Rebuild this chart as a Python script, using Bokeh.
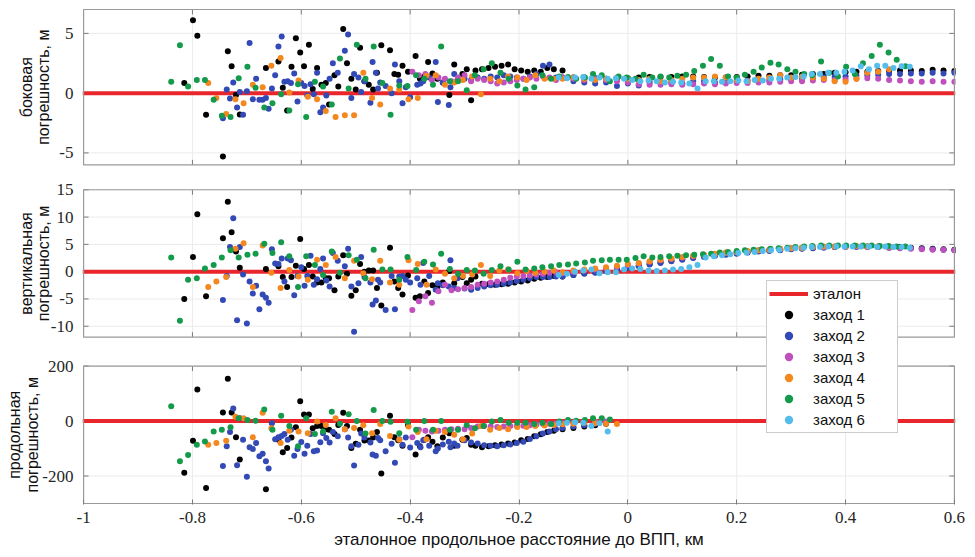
import math
from bokeh.plotting import figure
from bokeh.layouts import row
from bokeh.models import Range1d, FixedTicker, Legend, LegendItem
from bokeh.core.properties import value
from bokeh.embed import file_html
from bokeh.resources import INLINE

# ---------------- axis / text definitions ----------------
X_LIMITS = (-1.0, 0.6)
X_TICKS = [-1.0, -0.8, -0.6, -0.4, -0.2, 0.0, 0.2, 0.4, 0.6]
X_TICK_LABELS = ["-1", "-0.8", "-0.6", "-0.4", "-0.2", "0", "0.2", "0.4", "0.6"]
X_LABEL = "эталонное продольное расстояние до ВПП, км"

LAT_LIMITS = (-6, 7)
LAT_TICKS = [-5, 0, 5]
VERT_LIMITS = (-12, 15)
VERT_TICKS = [-10, -5, 0, 5, 10, 15]
LON_LIMITS = (-300, 200)
LON_TICKS = [-200, 0, 200]

PANEL_LABELS = [("боковая", "погрешность, м"),
                ("вертикальная", "погрешность, м"),
                ("продольная", "погрешность, м")]
REF_NAME = "эталон"
REF_LEVEL = 0
SERIES_NAMES = ["заход 1", "заход 2", "заход 3", "заход 4", "заход 5", "заход 6"]

# ---------------- data ----------------
RIGHT_X = [-0.12, -0.10, -0.08, -0.06, -0.04, -0.02, 0.00, 0.02, 0.04, 0.06,
           0.08, 0.10, 0.12, 0.14, 0.16, 0.18, 0.20, 0.22, 0.24, 0.26,
           0.28, 0.30, 0.32, 0.34, 0.36, 0.38, 0.40, 0.42, 0.44, 0.46,
           0.48, 0.50, 0.52, 0.54, 0.56, 0.58, 0.60]

# заход 1
X1 = [-0.815, -0.799, -0.791, -0.775, -0.744, -0.735, -0.728, -0.720, -0.713, -0.665,
      -0.642, -0.634, -0.626, -0.618, -0.610, -0.602, -0.595, -0.586, -0.579, -0.571,
      -0.563, -0.555, -0.549, -0.539, -0.532, -0.523, -0.516, -0.508, -0.500, -0.492,
      -0.484, -0.476, -0.468, -0.461, -0.453, -0.437, -0.429, -0.422, -0.414, -0.404,
      -0.390, -0.382, -0.374, -0.367, -0.359, -0.350, -0.340, -0.328, -0.319, -0.304,
      -0.296, -0.288, -0.280, -0.268, -0.256, -0.244, -0.232, -0.220, -0.208, -0.196,
      -0.184, -0.172, -0.160, -0.148, -0.136] + RIGHT_X
LAT1 = [0.86, 6.1, 4.8, -1.8, -5.3, 3.5, 2.25, -0.15, -1.78, 2.1,
        2.65, 0.45, -1.45, 2.2, 4.6, 3.4, 2.25, 4.05, 0.35, 2.1,
        0.7, 0.85, -0.95, 1.5, 0.55, 5.36, 2.5, 1.2, 0.3, 3.8,
        1.0, 0.7, 0.3, 1.7, 4.0, 3.6, 1.6, 1.55, 2.3, 1.8,
        3.1, 1.2, 1.4, 2.6, 1.65, 1.2, 0.9, -0.15, 2.4, 1.6,
        2.0, -0.6, 1.9, 2.0, 2.1, 2.2, 2.3, 2.4, 2.0, 1.9,
        1.8, 1.9, 1.8, 2.1, 2.0,
        1.9, 1.3, 1.3, 1.25, 1.2, 1.2, 1.25, 1.3, 1.35, 1.35,
        1.35, 1.4, 1.4, 1.35, 1.3, 1.3, 1.35, 1.4, 1.45, 1.45,
        1.5, 1.5, 1.55, 1.6, 1.6, 1.7, 1.75, 1.8, 1.8, 1.85,
        1.85, 1.9, 1.9, 1.85, 1.95, 1.9, 1.85]
VERT1 = [-5.0, 2.7, 10.5, -4.5, 6.1, 12.8, 7.2, 3.7, 0.7, 0.5,
         1.0, -1.0, -2.8, -1.0, 1.1, 6.0, 0.5, 1.2, -0.9, -2.0,
         -2.0, -1.2, -1.2, -3.4, -0.9, 3.0, -0.4, -4.4, -3.4, 1.4,
         0.0, 0.2, 0.2, -3.0, -6.2, 4.4, -1.8, -3.0, -4.2, -0.7,
         -4.8, -4.5, -1.8, -3.9, -2.5, -2.8, -2.0, 0.1, -2.1, -1.0,
         -2.1, -1.5, -0.9, -2.2, -2.3, -2.4, -2.3, -2.2, -2.0, -1.8,
         -1.6, -1.3, -1.1, -1.0, -0.8,
         -0.9, -0.6, -0.3, -0.1, 0.2, 0.5, 0.8, 1.1, 1.4, 1.7,
         2.0, 2.3, 2.6, 2.8, 3.0, 3.2, 3.4, 3.6, 3.8, 3.9,
         4.0, 4.2, 4.3, 4.4, 4.5, 4.5, 4.6, 4.6, 4.6, 4.6,
         4.5, 4.5, 4.4, 4.3, 4.2, 4.1, 4.0]
LON1 = [-188, -72, 115, -244, 31, 154, 31, -59, -140, -248,
        -68, -114, -98, -60, -23, 72, 24, 24, -26, -18,
        -18, -30, -32, -47, -14, 30, -18, -98, -83, -32,
        -71, -71, -60, -40, -191, 19, -59, -70, -90, -14,
        -122, -92, -68, -59, -75, -92, -60, -44, -90, -68,
        -62, -86, -90, -95, -92, -88, -85, -82, -78, -70,
        -65, -55, -48, -40, -35,
        -30, -25, -20, -15, -10]

# заход 2
X2 = [-0.744, -0.737, -0.731, -0.725, -0.718, -0.713, -0.707, -0.700, -0.695, -0.689,
      -0.683, -0.677, -0.671, -0.665, -0.660, -0.654, -0.648, -0.642, -0.636, -0.631,
      -0.625, -0.619, -0.613, -0.607, -0.600, -0.594, -0.589, -0.583, -0.577, -0.571,
      -0.565, -0.560, -0.554, -0.548,
      -0.542, -0.533, -0.520, -0.514, -0.508, -0.503, -0.495, -0.490, -0.484, -0.473,
      -0.469, -0.463, -0.459, -0.455, -0.445, -0.434, -0.428, -0.420, -0.414, -0.408,
      -0.400, -0.387, -0.381, -0.376, -0.365, -0.353, -0.349, -0.340, -0.329, -0.326,
      -0.319, -0.313,
      -0.300, -0.288, -0.276, -0.264, -0.252, -0.240, -0.228, -0.216, -0.204, -0.192,
      -0.180, -0.168, -0.156, -0.144, -0.132] + RIGHT_X
LAT2 = [-2.1, 0.3, -0.45, 0.9, -1.2, 0.1, -1.8, 0.15, 4.2, -0.5,
        1.2, -0.55, -0.55, -0.4, -1.3, 0.4, 1.5, 3.9, 4.75, 0.95,
        1.0, 0.85, 1.65, -0.7, 0.85, 0.6, -0.2, 0.75, -0.1, 1.7,
        -1.6, -1.2, -0.2, 1.2,
        2.5, 1.7, 3.55, 4.9, -0.4, 1.6, 1.3, 0.1, 1.0, -0.8,
        2.6, 1.7, 0.4, 0.9, 0.6, 0.0, 2.4, 1.0, -0.85, 0.5,
        -0.35, 0.7, 0.8, 1.0, 1.3, 2.6, -0.75, 0.9, -1.0, 0.5,
        1.6, 1.1,
        1.2, 1.1, 1.3, 1.2, 1.4, 1.3, 1.5, 1.4, 1.3, 1.2,
        1.4, 1.6, 2.3, 2.4, 1.3,
        1.3, 1.0, 0.9, 0.8, 0.9, 0.6, 0.8, 0.65, 0.9, 1.0,
        0.9, 0.8, 1.0, 1.0, 0.9, 1.0, 1.0, 1.05, 1.1, 1.1,
        1.15, 1.2, 1.2, 1.25, 1.3, 1.35, 1.4, 1.45, 1.5, 1.55,
        1.6, 1.6, 1.65, 1.65, 1.7, 1.65, 1.7]
VERT2 = [-5.2, -0.8, 4.5, 9.8, -8.9, 4.5, -0.5, -9.5, -1.8, -4.0,
         -2.6, -6.9, -4.2, -4.8, -5.7, 4.1, 1.5, 1.4, 2.4, -1.8,
         2.4, 2.1, -4.3, -0.8, 0.8, -2.6, -0.8, 2.9, -2.4, -1.4,
         0.5, 2.4, -1.6, -2.7,
         3.4, 2.0, 1.0, 4.2, -2.7, -11.0, -2.1, 2.7, -1.0, -2.0,
         -6.0, -5.3, -1.5, -2.0, -7.0, -0.8, -6.9, -0.9, -0.8, -1.5,
         -2.0, -1.2, -2.4, 1.6, -0.8, -3.3, -2.1, -2.5, -2.7, 2.1,
         -3.0, -1.2,
         -3.1, -3.3, -3.0, -2.7, -2.5, -2.4, -2.2, -2.0, -1.7, -1.5,
         -1.2, -1.0, -1.0, -1.0, -0.9,
         -0.9, -0.6, -0.4, -0.2, 0.1, 0.4, 0.7, 1.0, 1.3, 1.6,
         1.9, 2.2, 2.5, 2.7, 2.9, 3.1, 3.3, 3.5, 3.7, 3.8,
         3.9, 4.1, 4.2, 4.3, 4.4, 4.5, 4.5, 4.5, 4.5, 4.5,
         4.4, 4.4, 4.3, 4.2, 4.1, 4.0, 3.9]
LON2 = [-164, -92, -40, 46, -161, 10, -68, -203, -95, -102,
        -80, -128, -119, -146, -173, -8, -66, -59, -54, -47,
        -68, -32, -126, -102, -76, -119, -90, -47, -110, -107,
        -77, -44, -62, -78,
        -40, -55, -30, -60, -92, -162, -86, -45, -60, -78,
        -122, -126, -62, -70, -110, -83, -152, -66, -86, -60,
        -96, -80, -95, -70, -90, -110, -100, -85, -75, -95,
        -82, -90,
        -70, -78, -82, -88, -90, -92, -88, -85, -80, -75,
        -65, -55, -45, -38, -30,
        -25, -20, -15, -10, -6]

# заход 3
X3 = [-0.396, -0.384, -0.372, -0.360, -0.348, -0.336, -0.324, -0.312, -0.300, -0.288,
      -0.276, -0.264, -0.252, -0.240, -0.228, -0.216, -0.204, -0.192, -0.180, -0.168,
      -0.156, -0.144, -0.132] + RIGHT_X
LAT3 = [1.8, 1.5, 1.6, 1.1, 1.3, 1.2, 1.0, 1.3, 1.5, 1.0,
        1.2, 1.1, 1.0, 0.8, 0.9, 1.0, 1.1, 1.2, 1.3, 1.2,
        1.4, 1.3, 1.1,
        1.3, 1.2, 1.1, 1.2, 1.1, 1.0, 0.9, 0.75, 0.7, 0.7,
        0.75, 0.7, 0.75, 0.8, 0.75, 0.8, 0.85, 0.85, 0.9, 0.9,
        0.95, 1.0, 1.0, 1.05, 1.1, 1.1, 1.15, 1.2, 1.25, 1.2,
        1.1, 1.05, 1.0, 0.95, 1.0, 0.95, 0.95]
VERT3 = [-7.0, -5.4, -4.5, -5.7, -3.6, -2.4, -3.4, -3.2, -3.0, -2.8,
         -2.4, -2.2, -2.0, -1.8, -1.5, -1.1, -0.9, -0.8, -0.7, -0.5,
         -0.4, -0.2, -0.1,
         -0.3, 0.0, 0.2, 0.4, 0.6, 0.9, 1.2, 1.5, 1.8, 2.1,
         2.3, 2.6, 2.8, 3.0, 3.2, 3.4, 3.6, 3.7, 3.9, 4.0,
         4.1, 4.3, 4.4, 4.5, 4.5, 4.6, 4.6, 4.6, 4.5, 4.5,
         4.4, 4.3, 4.2, 4.1, 4.0, 4.0, 3.9]
LON3 = [-59, -32, -35, -38, -35, -32, -30, -28, -30, -25,
        -20, -18, -20, -22, -20, -18, -18, -17, -15, -13,
        -11, -10, -9,
        -8, -6, -4, -3, -2]

# заход 4
X4 = [-0.771, -0.756, -0.738, -0.721, -0.706, -0.689, -0.671, -0.655, -0.638, -0.622,
      -0.605, -0.588, -0.571, -0.555, -0.537, -0.520, -0.503, -0.486, -0.470, -0.455,
      -0.437, -0.420, -0.403, -0.386, -0.370, -0.353, -0.336, -0.319, -0.303, -0.286,
      -0.270, -0.253, -0.236, -0.220, -0.203, -0.186, -0.170, -0.153, -0.136] + RIGHT_X[:31]
LAT4 = [0.85, -0.4, -1.75, -0.5, -0.85, 0.7, 0.5, 2.3, 2.95, 0.05,
        1.05, -0.3, -0.5, -1.5, -2.0, -1.85, -1.85, 1.7, -0.4, -0.95,
        0.4, 0.3, -0.5, -0.4, 1.45, 1.5, 0.7, 0.9, 1.1, 1.4,
        -0.1, 1.2, 1.0, 1.4, 1.3, 1.1, 1.5, 1.2, 1.2,
        1.2, 1.3, 1.2, 1.1, 1.2, 1.3, 1.2, 1.1, 1.2, 1.0,
        1.1, 1.2, 1.3, 1.3, 1.4, 1.3, 1.1, 1.0, 1.2, 1.3,
        1.5, 1.3, 1.4, 1.3, 1.2, 1.0, 0.95, 1.2, 1.7, 1.8,
        2.0]
VERT4 = [-2.8, -1.8, -1.0, 4.2, 5.2, -2.8, 4.8, -0.2, -3.0, 0.3,
         -0.9, -1.5, 2.2, 1.2, 2.7, -1.2, 2.0, -0.3, -1.4, 2.0,
         -2.0, -2.4, 2.1, 1.4, -2.4, 0.4, -0.4, -1.2, -0.8, -0.5,
         1.2, -0.8, 0.2, 0.4, -0.3, 0.1, -0.2, 0.0, 0.2,
         -0.1, 0.2, 0.4, 0.6, 0.8, 1.1, 1.4, 1.6, 1.9, 2.2,
         2.4, 2.7, 2.9, 3.1, 3.3, 3.5, 3.6, 3.8, 3.9, 4.0,
         4.2, 4.3, 4.4, 4.5, 4.6, 4.6, 4.6, 4.7, 4.6, 4.6,
         4.6]
LON4 = [-86, -80, -72, 16, 10, -59, 30, -26, -80, -35,
        -38, -44, -2, -14, 10, -30, -25, -15, -44, -11,
        -54, -68, -20, -40, -66, -35, -40, -50, -66, -45,
        -18, -32, -25, -30, -22, -22, -18, -16, -14,
        -12, -10, -6, -8, -10, -11]

# заход 5
X5 = [-0.839, -0.823, -0.808, -0.792, -0.777, -0.761, -0.746, -0.730, -0.715, -0.699,
      -0.684, -0.668, -0.653, -0.637, -0.622, -0.606, -0.591, -0.575, -0.560, -0.544,
      -0.529, -0.513, -0.498, -0.482, -0.467, -0.451, -0.436, -0.420, -0.405, -0.389,
      -0.374, -0.358, -0.343, -0.327, -0.312, -0.296, -0.281, -0.265, -0.250, -0.234,
      -0.219, -0.203, -0.188, -0.172, -0.157, -0.141, -0.126, -0.110, -0.095, -0.079,
      -0.064, -0.048, -0.033, -0.017, -0.002, 0.014, 0.029, 0.045, 0.060, 0.076,
      0.091, 0.107, 0.122, 0.138, 0.153, 0.169, 0.184, 0.200, 0.215, 0.231,
      0.246, 0.262, 0.277, 0.293, 0.308, 0.324, 0.339, 0.355, 0.370, 0.386,
      0.401, 0.417, 0.432, 0.448, 0.463, 0.479, 0.494, 0.510]
LAT5 = [0.95, 4.0, 0.55, 1.1, 1.1, -0.55, -1.9, -2.0, 1.25, 2.2,
        0.45, -1.2, -0.85, -0.1, -1.45, 0.75, -2.0, 0.95, 0.55, -0.95,
        2.9, 0.4, 4.05, 1.2, 3.9, 0.85, -1.8, 0.65, 0.6, 1.5,
        1.2, 0.7, 3.9, 1.0, 1.0, 0.25, 1.5, 2.0, 2.5, 1.7,
        1.2, 0.65, 0.3, 0.5, 1.5, 1.2, 1.4, 1.35, 1.2, 1.3,
        1.6, 1.5, 1.0, 1.4, 1.3, 1.2, 1.55, 1.3, 1.4, 1.3,
        1.45, 1.55, 1.85, 2.3, 2.85, 2.3, 1.4, 1.3, 1.55, 1.8,
        2.15, 2.55, 2.4, 2.0, 1.8, 1.6, 1.5, 2.65, 1.7, 1.4,
        2.2, 1.6, 2.5, 3.1, 4.05, 3.4, 2.8, 2.25]
VERT5 = [2.6, -9.0, -1.5, -1.2, 0.6, 1.2, 2.6, 3.9, 2.6, 3.1,
         3.3, 5.1, 3.4, 5.4, 2.8, -2.8, 2.8, 1.2, -0.6, 3.7,
         -0.2, 3.0, 2.2, -1.2, 4.0, 0.4, 0.4, -1.5, 2.7, 0.3,
         1.8, 1.3, 3.3, 0.5, -0.4, 0.3, 0.2, -0.4, 0.3, 1.0,
         0.4, 1.8, 0.4, 0.6, 0.8, 1.0, 1.2, 1.3, 1.5, 1.7,
         2.0, 2.1, 2.2, 2.2, 2.2, 2.5, 2.8, 2.6, 2.7, 2.8,
         2.9, 3.0, 3.1, 3.2, 3.3, 3.5, 3.6, 3.8, 3.9, 4.0,
         4.1, 4.2, 4.3, 4.4, 4.5, 4.6, 4.7, 4.8, 4.8, 4.8,
         4.8, 4.8, 4.8, 4.8, 4.7, 4.7, 4.6, 4.6]
LON5 = [54, -146, -124, -86, -74, -38, -32, -23, 10, 4,
        1, 42, -32, 19, -18, -92, 10, -47, -38, 34,
        -10, 25, 0, -45, 40, 0, -3, -44, -3, -32,
        0, -32, 0, -32, -32, -15, -26, -18, -2, 4,
        -6, -6, -6, -11, -6, -11, -2, 4, 1, 4,
        10, 10, 6]

# заход 6
X6 = [-0.127, -0.112, -0.097, -0.082, -0.067, -0.052, -0.037, -0.022, -0.007, 0.008,
      0.023, 0.038, 0.053, 0.068, 0.083, 0.098, 0.113, 0.128, 0.143, 0.158,
      0.173, 0.188, 0.203, 0.218, 0.233, 0.248, 0.263, 0.278, 0.293, 0.308,
      0.323, 0.338, 0.353, 0.368, 0.383, 0.398, 0.413, 0.428, 0.443, 0.458,
      0.473, 0.488, 0.503, 0.518]
LAT6 = [1.3, 1.25, 1.3, 1.35, 1.2, 1.3, 1.2, 1.25, 1.2, 1.1,
        1.0, 1.05, 1.0, 0.9, 0.95, 0.9, 0.8, 0.4, 1.0, 1.0,
        0.95, 1.0, 1.05, 1.0, 1.1, 1.05, 1.2, 1.2, 1.3, 1.35,
        1.4, 1.6, 1.6, 1.7, 1.7, 1.8, 1.9, 2.25, 2.0, 2.3,
        2.3, 2.1, 2.25, 2.2]
VERT6 = [-0.6, -0.4, 0.0, 0.2, 0.4, -0.3, -0.1, -0.1, 0.4, 0.6,
         0.5, 0.2, 0.1, 0.2, 0.4, 0.5, 0.8, 1.2, 2.6, 2.8,
         3.0, 3.2, 3.4, 3.5, 3.6, 3.8, 3.9, 4.0, 4.2, 4.3,
         4.4, 4.5, 4.5, 4.6, 4.6, 4.6, 4.6, 4.6, 4.6, 4.5,
         4.6, 4.5, 4.5, 4.4]
LON6 = [-8, -6, -4, -6, -18, -8, -38]

SERIES_X = [X1, X2, X3, X4, X5, X6]
SERIES_LAT = [LAT1, LAT2, LAT3, LAT4, LAT5, LAT6]
SERIES_VERT = [VERT1, VERT2, VERT3, VERT4, VERT5, VERT6]
SERIES_LON = [LON1, LON2, LON3, LON4, LON5, LON6]

# ---------------- styling / layout ----------------
COLORS = ["#000000", "#3349b5", "#c050be", "#f5871f", "#139a4a", "#55bdec"]
RED = "#e8262b"
BOX = "#9a9a9a"
TICK = "#7a7a7a"
GRID = "#ebebeb"
TEXT = "#262626"
SERIF_X = "serif"
SERIF_Y = "'Liberation Serif'"
SANS = "Liberation Sans"

TOTAL_W, TOTAL_H = 975, 557
STRIP_W = 75                       # strip with rotated panel titles and y tick labels
W = TOTAL_W - STRIP_W
BORDER_L, BORDER_R, BORDER_T, BORDER_B = 7, 20, 8, 53
FRAME_W = W - BORDER_L - BORDER_R
MAIN_Y = (-1.0, 497.0)             # frame units (~pixels from the frame bottom)
BANDS = [(340.0, 496.0), (167.0, 315.0), (0.0, 138.0)]
TITLE_X = [(26, 43), (26, 43), (14, 32)]
TICK_LABEL_X = 73
X_PAD = 0.002
KM_PER_PX = (X_LIMITS[1] - X_LIMITS[0] + 2 * X_PAD) / FRAME_W
TICK_LEN = 5.0

PANELS = [("lat", LAT_LIMITS, LAT_TICKS, SERIES_LAT),
          ("vert", VERT_LIMITS, VERT_TICKS, SERIES_VERT),
          ("lon", LON_LIMITS, LON_TICKS, SERIES_LON)]

p = figure(width=W, height=TOTAL_H, title=None,
           x_range=Range1d(X_LIMITS[0] - X_PAD, X_LIMITS[1] + X_PAD),
           y_range=Range1d(*MAIN_Y), y_axis_location=None,
           output_backend="svg", toolbar_location=None,
           min_border_left=BORDER_L, min_border_right=BORDER_R,
           min_border_top=BORDER_T, min_border_bottom=BORDER_B,
           outline_line_color=None, background_fill_color="white",
           border_fill_color="white")
p.grid.visible = False

span = MAIN_Y[1] - MAIN_Y[0]
extra = {}
ytick_pos, ytick_lab = [], []
for (name, (lo, hi), ticks, _), (b0, b1) in zip(PANELS, BANDS):
    f0 = (b0 - MAIN_Y[0]) / span
    f1 = (b1 - MAIN_Y[0]) / span
    full = (hi - lo) / (f1 - f0)
    start = lo - f0 * full
    extra[name] = Range1d(start, start + full)
    for t in ticks:
        ytick_pos.append(b0 + (t - lo) / (hi - lo) * (b1 - b0))
        ytick_lab.append(f"{t:g}")
p.extra_y_ranges = extra

xax = p.xaxis[0]
xax.ticker = FixedTicker(ticks=X_TICKS)
xax.major_label_overrides = dict(zip(X_TICKS, X_TICK_LABELS))
xax.axis_line_color = None
xax.major_tick_in = 5
xax.major_tick_out = 0
xax.major_tick_line_color = TICK
xax.minor_tick_line_color = None
xax.major_label_text_font = SERIF_X
xax.major_label_text_font_size = "17px"
xax.major_label_text_color = TEXT
xax.major_label_standoff = 7
xax.axis_label = X_LABEL
xax.axis_label_text_font = SANS
xax.axis_label_text_font_size = "17px"
xax.axis_label_text_font_style = "normal"
xax.axis_label_text_color = "#111111"
xax.axis_label_standoff = 4

# grid lines, confined to each panel
gx0, gx1, gy0, gy1 = [], [], [], []
for b0, b1 in BANDS:
    for t in X_TICKS[1:-1]:
        gx0.append(t); gx1.append(t); gy0.append(b0); gy1.append(b1)
for yp in ytick_pos:
    gx0.append(X_LIMITS[0]); gx1.append(X_LIMITS[1]); gy0.append(yp); gy1.append(yp)
p.segment(x0=gx0, y0=gy0, x1=gx1, y1=gy1, line_color=GRID, line_width=1, level="underlay")

# inner tick marks on the panel edges
tx0, tx1, ty0, ty1 = [], [], [], []
for i, (b0, b1) in enumerate(BANDS):
    for t in X_TICKS[1:-1]:
        tx0.append(t); tx1.append(t); ty0.append(b1 - TICK_LEN); ty1.append(b1)
        if i < len(BANDS) - 1:
            tx0.append(t); tx1.append(t); ty0.append(b0); ty1.append(b0 + TICK_LEN)
for yp in ytick_pos:
    tx0.append(X_LIMITS[0]); tx1.append(X_LIMITS[0] + TICK_LEN * KM_PER_PX); ty0.append(yp); ty1.append(yp)
    tx0.append(X_LIMITS[1] - TICK_LEN * KM_PER_PX); tx1.append(X_LIMITS[1]); ty0.append(yp); ty1.append(yp)
p.segment(x0=tx0, y0=ty0, x1=tx1, y1=ty1, line_color=TICK, line_width=1)

ref_renderer = None
first_panel_renderers = []
for (name, lims, ticks, ys_all), (b0, b1) in zip(PANELS, BANDS):
    r = p.line(x=[X_LIMITS[0] - X_PAD, X_LIMITS[1] + X_PAD], y=[REF_LEVEL, REF_LEVEL],
               y_range_name=name, line_color=RED, line_width=4)
    if ref_renderer is None:
        ref_renderer = r
    for k, (xs, ys) in enumerate(zip(SERIES_X, ys_all)):
        n = min(len(xs), len(ys))
        sr = p.scatter(x=xs[:n], y=ys[:n], y_range_name=name, size=6,
                       fill_color=COLORS[k], line_color=None)
        if name == "lat":
            first_panel_renderers.append(sr)

p.quad(left=[X_LIMITS[0]] * 3, right=[X_LIMITS[1]] * 3,
       bottom=[b[0] for b in BANDS], top=[b[1] for b in BANDS],
       fill_color=None, line_color=BOX, line_width=1.2)

items = [LegendItem(label=REF_NAME, renderers=[ref_renderer])]
for nm, r in zip(SERIES_NAMES, first_panel_renderers):
    items.append(LegendItem(label=nm, renderers=[r]))
legend = Legend(items=items, location=(684, 71),
                border_line_color=BOX, border_line_width=1,
                background_fill_color="white", background_fill_alpha=1.0,
                label_text_font=SANS, label_text_font_size="15px", label_text_color="#111111",
                glyph_width=39, glyph_height=21, label_height=21, label_width=82,
                spacing=0, padding=2, margin=0, label_standoff=5)
p.add_layout(legend)

# ---------------- left strip: panel titles and y tick labels ----------------
lf = figure(width=STRIP_W, height=TOTAL_H, title=None,
            x_range=Range1d(0, STRIP_W), y_range=Range1d(*MAIN_Y),
            output_backend="svg", toolbar_location=None,
            x_axis_location=None, y_axis_location=None,
            min_border_left=0, min_border_right=0,
            min_border_top=BORDER_T, min_border_bottom=BORDER_B,
            outline_line_color=None, background_fill_color="white",
            border_fill_color="white")
lf.grid.visible = False
txt_x, txt_y, txt = [], [], []
for lines, xs_pair, (b0, b1) in zip(PANEL_LABELS, TITLE_X, BANDS):
    for lx, s in zip(xs_pair, lines):
        txt_x.append(lx); txt_y.append((b0 + b1) / 2); txt.append(s)
lf.text(x=txt_x, y=txt_y, text=txt, angle=math.pi / 2,
        text_align="center", text_baseline="middle",
        text_font=value(SANS), text_font_size="16px", text_color="#111111")
lf.text(x=[TICK_LABEL_X] * len(ytick_pos), y=ytick_pos, text=ytick_lab,
        text_align="right", text_baseline="middle",
        text_font=value(SERIF_Y), text_font_size="17px", text_color=TEXT)

layout = row(lf, p)
open("out.html", "w").write(file_html(layout, INLINE))
